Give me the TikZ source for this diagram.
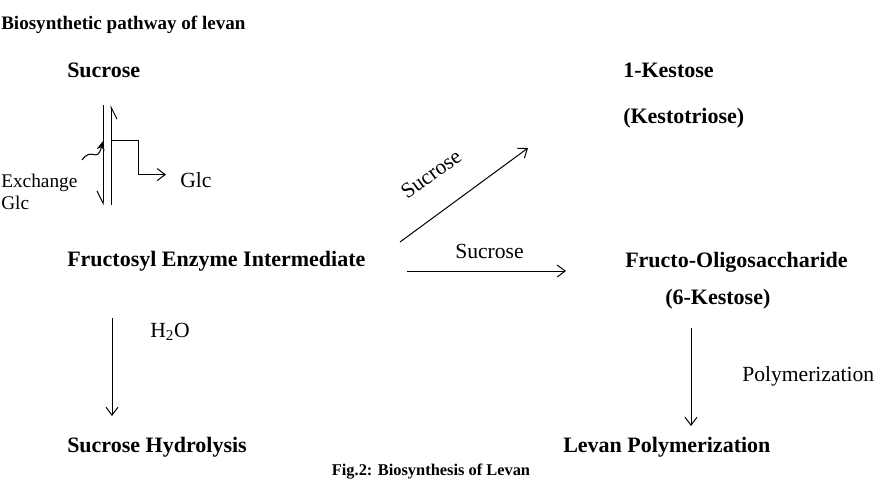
\documentclass[tikz,border=0pt]{standalone}
\usepackage{fontspec}
\setmainfont{Liberation Serif}
\usetikzlibrary{positioning, calc, arrows.meta}

\begin{document}
\begin{tikzpicture}[
        x=0.75pt, y=-0.75pt,
        compound/.style={
            inner sep=0pt,
            anchor=base west,
            font=\fontsize{16.5}{19}\selectfont\bfseries
        },
        cond/.style={
            inner sep=0pt,
            anchor=base west,
            font=\fontsize{16.2}{19}\selectfont
        },
        arrow/.style={
            -{Straight Barb[length=6pt,width=9pt]},
            line width=0.75pt,
            black
        },
        harpoon/.style={
            -{Straight Barb[right,length=9pt,width=9pt]},
            line width=0.75pt
        }
    ]
        \useasboundingbox (0,0) rectangle (896,480);

        % heading and caption
        \node [compound, font=\fontsize{14.3}{17}\selectfont\bfseries] (title) at (1,29) {Biosynthetic pathway of levan};
        \node [inner sep=0pt, anchor=base, font=\fontsize{12.3}{14}\selectfont\bfseries] (caption) at (431,475) {Fig.2: Biosynthesis of Levan};

        % compounds
        \node [compound] (sucrose) at (67,77) {Sucrose};
        \node [compound] (kestose) at (623,77) {1-Kestose};
        \node [compound] (kestotriose) at (623,123) {(Kestotriose)};
        \node [compound] (intermediate) at (67,266) {Fructosyl Enzyme Intermediate};
        \node [compound] (oligo) at (625,267) {Fructo-Oligosaccharide};
        \node [compound] (sixkestose) at (665,304) {(6-Kestose)};
        \node [compound] (hydrolysis) at (67,452) {Sucrose Hydrolysis};
        \node [compound] (levan) at (563,452) {Levan Polymerization};

        % conditions
        \node [cond] (glc) at (180,187) {Glc};
        \node [cond, font=\fontsize{14.5}{17}\selectfont] (exchange) at (1,187) {Exchange};
        \node [cond, font=\fontsize{14.5}{17}\selectfont] (exglc) at (1,209) {Glc};
        \node [cond] (water) at (150,337) {H\textsubscript{2}O};
        \node [cond] (poly) at (742,381) {Polymerization};
        \node [cond] (sucb) at (455,258) {Sucrose};
        \node [cond, anchor=center, rotate=36] (suca) at (431,174) {Sucrose};

        % connector ends
        \coordinate (exTop) at (103,105);
        \coordinate (exBot) at (103,205);
        \coordinate (inTop) at (111,105);
        \coordinate (inBot) at (111,205);
        \coordinate (glcOut) at (111,140);
        \coordinate (glcIn) at (82,160);
        \coordinate (glcTip) at (103,141);
        \coordinate (diagA) at (400,242);
        \coordinate (diagB) at (528,148);
        \coordinate (horA) at (407,271);
        \coordinate (horB) at (566,271);
        \coordinate (hydA) at (112,318);
        \coordinate (hydB) at (112,416);
        \coordinate (levA) at (691,328);
        \coordinate (levB) at (691,426);

        \draw [harpoon] (exTop) -- (exBot);
        \draw [harpoon] (inBot) -- (inTop);
        \draw [arrow] (glcOut) -- ++(27,0) |- ($(glc.west)+(-14,-5)$);
        \draw [line width=0.75pt, -{Stealth[length=7pt,width=6pt]}] (glcIn) .. controls (92,146) and (97,164) .. (glcTip);
        \draw [arrow] (diagA) -- (diagB);
        \draw [arrow] (horA) -- (horB);
        \draw [arrow] (hydA) -- (hydB);
        \draw [arrow] (levA) -- (levB);
    \end{tikzpicture}
\end{document}
